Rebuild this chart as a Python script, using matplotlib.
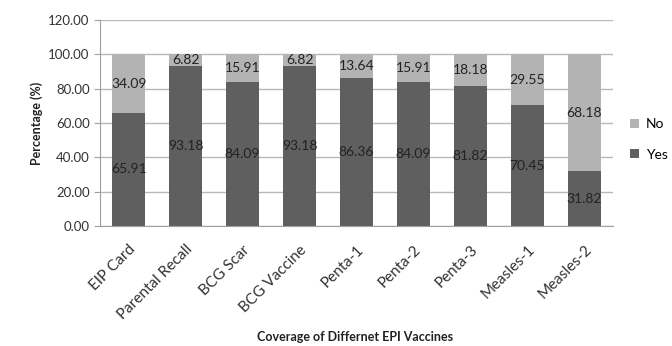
import numpy as np
import matplotlib.pyplot as plt

plt.rcParams['font.family'] = ['Lato', 'DejaVu Sans']

categories = ['EIP Card', 'Parental Recall', 'BCG Scar', 'BCG Vaccine', 'Penta-1',
              'Penta-2', 'Penta-3', 'Measles-1', 'Measles-2']
yes = [65.91, 93.18, 84.09, 93.18, 86.36, 84.09, 81.82, 70.45, 31.82]
no = [34.09, 6.82, 15.91, 6.82, 13.64, 15.91, 18.18, 29.55, 68.18]

fig = plt.figure(figsize=(6.72, 3.46), dpi=100)
ax = fig.add_axes([0.149, 0.347, 0.763, 0.595])

x = np.arange(len(categories))
w = 0.59
ax.bar(x, yes, w, color='#5f5f5f', label='Yes', zorder=2)
ax.bar(x, no, w, bottom=yes, color='#b3b3b3', label='No', zorder=2)

for i in range(len(x)):
    ax.text(x[i], yes[i] / 2, '%.2f' % yes[i], ha='center', va='center',
            fontsize=10, color='#222222', zorder=3)
    ax.text(x[i], yes[i] + no[i] / 2, '%.2f' % no[i], ha='center', va='center',
            fontsize=10, color='#222222', zorder=3)

ax.set_xlim(-0.5, len(x) - 0.5)
ax.set_ylim(0, 120)
ax.set_yticks(np.arange(0, 121, 20))
ax.set_yticklabels(['%.2f' % v for v in np.arange(0, 121, 20)], fontsize=9.5, color='#333333')
ax.set_xticks(x)
ax.set_xticklabels(categories, rotation=45, ha='right', rotation_mode='anchor',
                   fontsize=11, color='#333333')
ax.tick_params(axis='x', length=0, pad=12)
ax.tick_params(axis='y', length=4, color='#a0a0a0')
ax.grid(axis='y', color='#b8b8b8', linewidth=1, zorder=0)
for s in ['top', 'right']:
    ax.spines[s].set_visible(False)
ax.spines['left'].set_color('#a0a0a0')
ax.spines['bottom'].set_color('#a0a0a0')

ax.set_ylabel('Percentage (%)', fontsize=9, fontweight='bold', color='#222222')
fig.text(0.528, 0.025, 'Coverage of Differnet EPI Vaccines', ha='center', va='center',
         fontsize=9, fontweight='bold', color='#222222')

h, l = ax.get_legend_handles_labels()
ax.legend(h[::-1], l[::-1], loc='center left', bbox_to_anchor=(1.01, 0.42),
          frameon=False, fontsize=10, handlelength=0.6, handleheight=0.6,
          labelspacing=1.3, handletextpad=0.5)

fig.savefig('out.png', dpi=100)
